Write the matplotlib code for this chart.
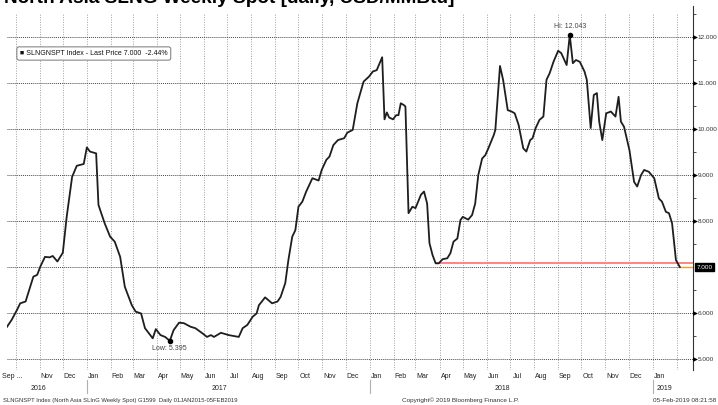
import matplotlib
matplotlib.use("Agg")
import matplotlib.pyplot as plt
from matplotlib import font_manager
import pandas as pd

# values (USD/MMBtu)
dates = [
    "2016-09-20", "2016-09-26", "2016-10-03", "2016-10-07", "2016-10-14",
    "2016-10-24", "2016-10-29", "2016-11-02", "2016-11-08", "2016-11-14",
    "2016-11-18", "2016-11-24", "2016-12-01", "2016-12-06", "2016-12-13",
    "2016-12-19", "2016-12-28", "2017-01-01", "2017-01-05", "2017-01-13",
    "2017-01-16", "2017-01-24", "2017-01-31", "2017-02-06", "2017-02-13",
    "2017-02-19", "2017-02-28", "2017-03-05", "2017-03-12", "2017-03-17",
    "2017-03-27", "2017-03-31", "2017-04-06", "2017-04-12", "2017-04-18",
    "2017-04-23", "2017-04-30", "2017-05-06", "2017-05-15", "2017-05-21",
    "2017-05-30", "2017-06-05", "2017-06-10", "2017-06-14", "2017-06-23",
    "2017-07-03", "2017-07-16", "2017-07-21", "2017-07-27", "2017-08-03",
    "2017-08-08", "2017-08-11", "2017-08-19", "2017-08-28", "2017-09-04",
    "2017-09-08", "2017-09-14", "2017-09-18", "2017-09-23", "2017-09-27",
    "2017-10-01", "2017-10-06", "2017-10-11", "2017-10-19", "2017-10-27",
    "2017-10-31", "2017-11-06", "2017-11-10", "2017-11-15", "2017-11-21",
    "2017-11-29", "2017-12-03", "2017-12-10", "2017-12-16", "2017-12-24",
    "2017-12-31", "2018-01-05", "2018-01-10", "2018-01-17", "2018-01-20",
    "2018-01-23", "2018-01-26", "2018-01-31", "2018-02-04", "2018-02-07",
    "2018-02-10", "2018-02-14", "2018-02-16", "2018-02-20", "2018-02-25",
    "2018-03-01", "2018-03-08", "2018-03-12", "2018-03-16", "2018-03-19",
    "2018-03-23", "2018-03-27", "2018-03-31", "2018-04-05", "2018-04-11",
    "2018-04-15", "2018-04-19", "2018-04-24", "2018-04-28", "2018-05-01",
    "2018-05-08", "2018-05-13", "2018-05-17", "2018-05-21", "2018-05-26",
    "2018-05-30", "2018-06-03", "2018-06-10", "2018-06-12", "2018-06-18",
    "2018-06-22", "2018-06-28", "2018-07-03", "2018-07-07", "2018-07-12",
    "2018-07-18", "2018-07-22", "2018-07-27", "2018-07-30", "2018-08-03",
    "2018-08-08", "2018-08-13", "2018-08-17", "2018-08-21", "2018-08-26",
    "2018-09-01", "2018-09-05", "2018-09-09", "2018-09-12", "2018-09-16",
    "2018-09-20", "2018-09-24", "2018-09-29", "2018-10-05", "2018-10-08",
    "2018-10-13", "2018-10-17", "2018-10-21", "2018-10-24", "2018-10-28",
    "2018-11-02", "2018-11-08", "2018-11-14", "2018-11-18", "2018-11-21",
    "2018-11-25", "2018-12-02", "2018-12-08", "2018-12-12", "2018-12-17",
    "2018-12-21", "2018-12-27", "2019-01-03", "2019-01-09", "2019-01-13",
    "2019-01-18", "2019-01-22", "2019-01-26", "2019-01-31", "2019-02-05",
]
prices = [
    5.70, 5.85, 6.07, 6.21, 6.25,
    6.79, 6.83, 7.01, 7.22, 7.21,
    7.24, 7.12, 7.31, 8.09, 8.96,
    9.20, 9.24, 9.60, 9.51, 9.47,
    8.35, 7.95, 7.66, 7.55, 7.22,
    6.57, 6.17, 6.03, 5.99, 5.67,
    5.45, 5.65, 5.52, 5.48, 5.395,
    5.63, 5.79, 5.78, 5.70, 5.67,
    5.56, 5.48, 5.52, 5.48, 5.57,
    5.52, 5.48, 5.67, 5.74, 5.92,
    5.99, 6.17, 6.34, 6.21, 6.25,
    6.35, 6.65, 7.15, 7.66, 7.80,
    8.31, 8.42, 8.64, 8.93, 8.88,
    9.11, 9.33, 9.40, 9.65, 9.76,
    9.80, 9.92, 9.98, 10.56, 11.03,
    11.14, 11.25, 11.28, 11.56, 10.21,
    10.36, 10.25, 10.21, 10.30, 10.30,
    10.56, 10.52, 10.49, 8.17, 8.31,
    8.28, 8.57, 8.64, 8.38, 7.52,
    7.26, 7.08, 7.08, 7.17, 7.19,
    7.30, 7.55, 7.62, 8.02, 8.09,
    8.03, 8.13, 8.38, 9.00, 9.36,
    9.43, 9.58, 9.87, 9.98, 11.37,
    11.07, 10.41, 10.38, 10.34, 10.09,
    9.58, 9.51, 9.76, 9.80, 10.02,
    10.20, 10.27, 11.07, 11.21, 11.46,
    11.70, 11.65, 11.50, 11.39, 12.043,
    11.43, 11.50, 11.46, 11.25, 11.07,
    10.02, 10.74, 10.78, 10.16, 9.76,
    10.34, 10.38, 10.27, 10.70, 10.16,
    10.05, 9.54, 8.85, 8.75, 9.00,
    9.11, 9.07, 8.93, 8.49, 8.42,
    8.20, 8.17, 7.95, 7.15, 7.00,
]

hi_date, hi_value = "2018-09-16", 12.043
low_date, low_value = "2017-04-18", 5.395
last_price = 7.000
support_date, support_value = "2018-03-27", 7.08
x_start, x_end = "2016-09-20", "2019-02-22"
y_ticks = [5, 6, 7, 8, 9, 10, 11, 12]
years = [2016, 2017, 2018, 2019]

title = "North Asia SLNG Weekly Spot [daily, USD/MMBtu]"
legend_text = "SLNGNSPT Index - Last Price 7.000  -2.44%"
footer_left = "SLNGNSPT Index (North Asia SLInG Weekly Spot) G1599  Daily 01JAN2015-05FEB2019"
footer_mid = "Copyright\u00a9 2019 Bloomberg Finance L.P."
footer_right = "05-Feb-2019 08:21:58"


def pick_font(*names):
    for name in names:
        try:
            font_manager.findfont(name, fallback_to_default=False)
            return name
        except ValueError:
            pass
    return "DejaVu Sans"


small_font = pick_font("Liberation Sans Narrow", "DejaVu Sans Condensed", "Liberation Sans")
fs = 1.15 if "Narrow" in small_font or "Condensed" in small_font else 1.0

df = pd.DataFrame({"date": pd.to_datetime(dates), "price": prices})
x0, x1 = pd.Timestamp(x_start), pd.Timestamp(x_end)

fig = plt.figure(figsize=(7.18, 4.05), dpi=100)
ax = fig.add_axes([7 / 718, 1 - 370 / 405, 686 / 718, 364 / 405])
ax.set_xlim(x0, x1)
ax.set_ylim(4.761, 12.674)

# grid: dotted month lines and integer price lines
grid_top = (370 - 13) / 364
for m in pd.date_range("2016-10-01", "2019-02-01", freq="MS"):
    ax.axvline(m, ymin=0, ymax=grid_top, color="#a0a0a0", lw=0.7,
               linestyle=(0, (1, 1.5)), zorder=1)
for v in y_ticks:
    ax.axhline(v, color="#4a4a4a", lw=0.7, linestyle=(0, (1, 1)), zorder=1)

ax.plot(df["date"], df["price"], color="#1e1e1e", lw=1.3, zorder=4)

# support line and last price line
ax.hlines(support_value, pd.Timestamp(support_date), x1, color="#ff7a7a", lw=1.3, zorder=3)
ax.hlines(last_price, df["date"].iloc[-1], x1, color="#f0a030", lw=1.0, zorder=3)

# hi / low markers
ax.plot(pd.Timestamp(hi_date), hi_value, "o", color="black", markersize=3, zorder=5)
ax.text(pd.Timestamp(hi_date), hi_value + 0.12, f"Hi: {hi_value:.3f}",
        ha="center", va="bottom", fontsize=5 * fs, color="#444444", family=small_font)
ax.plot(pd.Timestamp(low_date), low_value, "o", color="black", markersize=3, zorder=5)
ax.text(pd.Timestamp(low_date), low_value - 0.1, f"Low: {low_value:.3f}",
        ha="center", va="top", fontsize=5 * fs, color="#444444", family=small_font)

# right hand price axis
for s in ["left", "top", "bottom"]:
    ax.spines[s].set_visible(False)
ax.spines["right"].set_color("#333333")
ax.spines["right"].set_linewidth(0.8)
ax.yaxis.tick_right()
ax.set_yticks(y_ticks)
ax.set_yticklabels([f"{v:.3f}" if v != last_price else "" for v in y_ticks],
                   fontsize=4.6 * fs, color="#333333", family=small_font)
ax.set_yticks([v + 0.5 for v in y_ticks[:-1]] + [12.5], minor=True)
ax.tick_params(axis="y", which="major", length=0, pad=3.5)
ax.tick_params(axis="y", which="minor", length=2, width=0.6, color="#333333")
tr = ax.get_yaxis_transform()
for v in y_ticks:
    if v != last_price:
        ax.plot(1.003, v, marker=">", markersize=3.5, color="black",
                markeredgewidth=0, transform=tr, clip_on=False, zorder=6)
ax.text(1.005, last_price, f"{last_price:.3f}", transform=tr, ha="left", va="center",
        fontsize=4.6 * fs, color="white", family=small_font,
        bbox=dict(boxstyle="square,pad=0.3", fc="black", ec="black"))

# month labels near mid month
months = pd.date_range("2016-11-01", "2019-01-01", freq="MS")
tick_pos = [pd.Timestamp("2016-09-27")] + [m + pd.Timedelta(days=9) for m in months]
tick_lab = ["Sep ..."] + [m.strftime("%b") for m in months]
ax.set_xticks(tick_pos)
ax.set_xticklabels(tick_lab, fontsize=5 * fs, color="#222222", family=small_font)
ax.tick_params(axis="x", length=0, pad=2)

# year labels and separators
xtr = ax.get_xaxis_transform()
for yr in years:
    lo = max(pd.Timestamp(f"{yr}-01-01"), x0)
    hi = min(pd.Timestamp(f"{yr}-12-31"), x1)
    mid = lo + (hi - lo) / 2 - pd.Timedelta(days=11)
    ax.text(mid, -0.05, str(yr), transform=xtr, ha="center", va="center",
            fontsize=5 * fs, color="#222222", family=small_font)
    if pd.Timestamp(f"{yr}-01-01") > x0:
        ax.plot([pd.Timestamp(f"{yr}-01-01")] * 2, [-0.028, -0.062], transform=xtr,
                color="#b0b0b0", lw=0.8, clip_on=False)

# legend box
ax.text(13 / 686, 1 - 47.5 / 364, "\u25a0 " + legend_text,
        transform=ax.transAxes, ha="left", va="center", fontsize=5.0 * fs,
        color="#111111", family=small_font, zorder=7,
        bbox=dict(boxstyle="round,pad=0.45,rounding_size=0.3", fc="white",
                  ec="#777777", lw=0.7))

# title (cut off at the top as in the original) and footer
fig.text(4 / 718, 1 - 3 / 405, title, ha="left", va="baseline",
         fontsize=13.7, fontweight="bold", family="Liberation Sans", color="black")
fig.text(3 / 718, 0.004, footer_left, ha="left", va="bottom",
         fontsize=4.25 * fs, color="#333333", family=small_font)
fig.text(461 / 718, 0.004, footer_mid, ha="center", va="bottom",
         fontsize=4.6 * fs, color="#333333", family=small_font)
fig.text(716 / 718, 0.004, footer_right, ha="right", va="bottom",
         fontsize=4.6 * fs, color="#333333", family=small_font)

fig.savefig("out.png", dpi=100)
